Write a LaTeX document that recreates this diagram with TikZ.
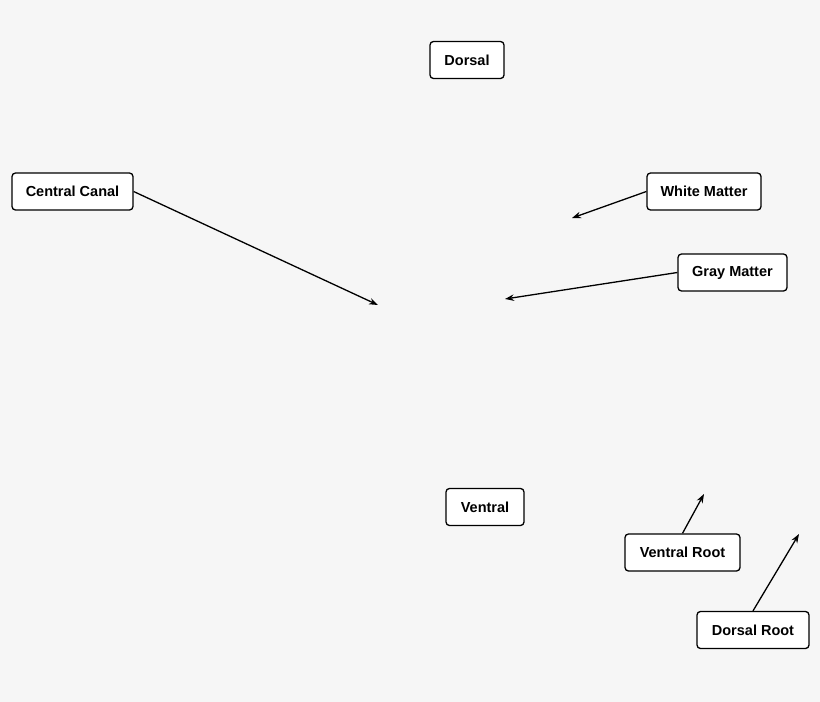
\documentclass[tikz,border=0pt]{standalone}
\usepackage{fontspec}
\setmainfont{Liberation Sans}
\usetikzlibrary{arrows.meta}
\begin{document}
\begin{tikzpicture}[x=1pt,y=-1pt,
  lbl/.style={draw=black,line width=1.3pt,fill=white,rounded corners=3.5pt,font=\fontsize{14.5}{17}\selectfont\bfseries,inner sep=0pt,minimum height=37pt},
  arr/.style={-{Stealth[length=9pt,width=6.5pt]},line width=1.3pt}]
\fill[fill={rgb,255:red,246;green,246;blue,246}] (0,0) rectangle (820,702);
\useasboundingbox (0,0) rectangle (820,702);
\node[lbl,minimum width=74pt] (dorsal) at (467,60) {Dorsal};
\node[lbl,minimum width=121pt] (cc) at (72.5,191.5) {Central Canal};
\node[lbl,minimum width=114pt] (wm) at (704,191.5) {White Matter};
\node[lbl,minimum width=109pt] (gm) at (732.5,272.5) {Gray Matter};
\node[lbl,minimum width=78pt] (ventral) at (485,507) {Ventral};
\node[lbl,minimum width=115pt] (vr) at (682.5,552.5) {Ventral Root};
\node[lbl,minimum width=112pt] (dr) at (753,630) {Dorsal Root};
\coordinate (ccT) at (378,305);
\coordinate (wmT) at (572,218);
\coordinate (gmT) at (505,299);
\coordinate (vrT) at (704,494);
\coordinate (drT) at (799,534);
\draw[arr] (cc.east) -- (ccT);
\draw[arr] (wm.west) -- (wmT);
\draw[arr] (gm.west) -- (gmT);
\draw[arr] (vr.north) -- (vrT);
\draw[arr] (dr.north) -- (drT);
\end{tikzpicture}
\end{document}
